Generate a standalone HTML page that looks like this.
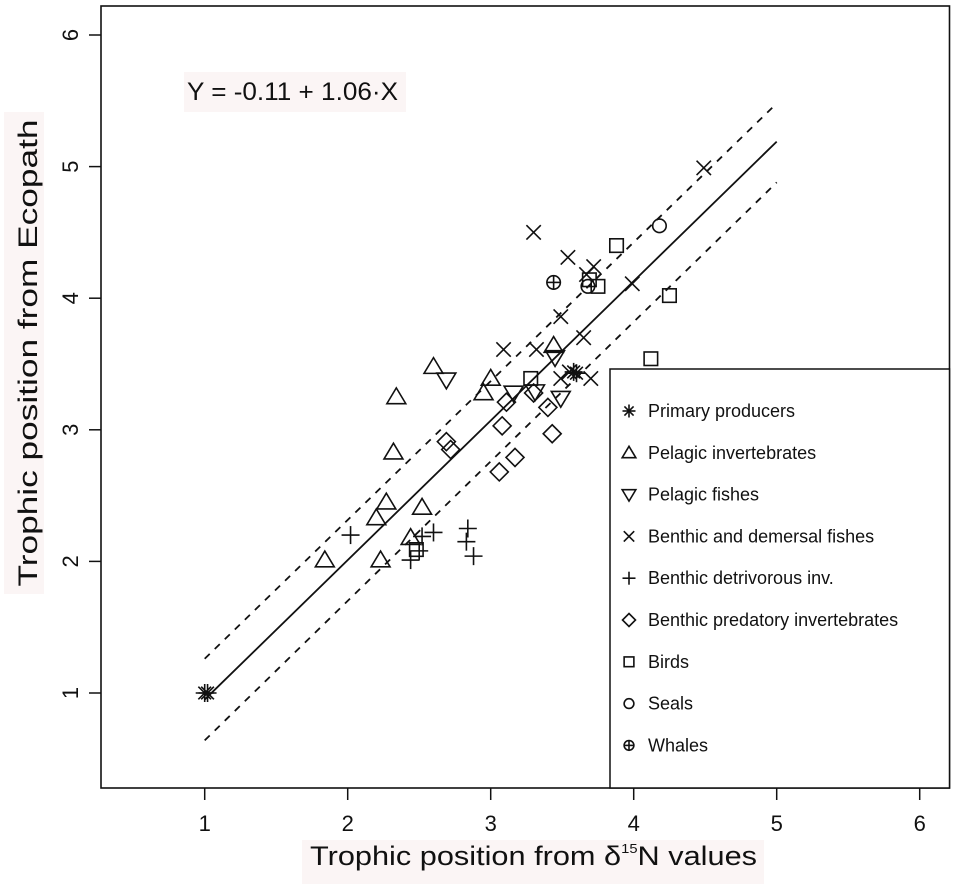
<!DOCTYPE html>
<html><head><meta charset="utf-8"><style>
html,body{margin:0;padding:0;background:#fff;}
svg{display:block;}
text{font-family:"Liberation Sans",Arial,sans-serif;fill:#111;}
</style></head><body>
<svg id="chart" width="956" height="888" viewBox="0 0 956 888" xmlns="http://www.w3.org/2000/svg"></svg>
<script>
const xTicks=[1,2,3,4,5,6];
const yTicks=[1,2,3,4,5,6];
const primaryX=[1.0,1.02,3.58,3.6];
const primaryY=[1.0,1.0,3.44,3.43];
const pelInvX=[2.60,2.34,3.00,2.95,2.32,2.27,2.20,2.52,2.44,1.84,2.23,3.44];
const pelInvY=[3.48,3.25,3.39,3.28,2.83,2.45,2.33,2.41,2.18,2.01,2.01,3.64];
const pelFishX=[2.69,3.16,3.49,3.45,3.31];
const pelFishY=[3.38,3.28,3.24,3.55,3.29];
const benthFishX=[4.49,3.30,3.54,3.72,3.67,3.99,3.49,3.65,3.09,3.32,3.49,3.70,3.55];
const benthFishY=[4.99,4.50,4.31,4.24,4.18,4.11,3.86,3.70,3.61,3.61,3.39,3.39,3.44];
const detrX=[2.02,2.52,2.60,2.84,2.83,2.88,2.44,2.50];
const detrY=[2.20,2.19,2.22,2.25,2.15,2.04,2.01,2.08];
const predX=[2.69,2.72,3.08,3.11,3.30,3.40,3.43,3.17,3.06];
const predY=[2.91,2.85,3.03,3.21,3.28,3.17,2.97,2.79,2.68];
const birdX=[3.88,4.25,3.75,3.69,4.12,3.28,2.48];
const birdY=[4.40,4.02,4.09,4.14,3.54,3.39,2.09];
const sealX=[4.18,3.68];
const sealY=[4.55,4.09];
const whaleX=[3.44];
const whaleY=[4.12];
const fitX=[1,5];
const fitY=[0.95,5.19];
const upperY=[1.26,5.48];
const lowerY=[0.64,4.88];
const legendLabels=["Primary producers","Pelagic invertebrates","Pelagic fishes","Benthic and demersal fishes","Benthic detrivorous inv.","Benthic predatory invertebrates","Birds","Seals","Whales"];

const NS="http://www.w3.org/2000/svg";
const svg=document.getElementById('chart');
function sx(v){return 204.7+(v-1)*143;}
function sy(v){return 693-(v-1)*131.6;}
function mk(tag,attrs,parent){const e=document.createElementNS(NS,tag);for(const k in attrs)e.setAttribute(k,attrs[k]);(parent||svg).appendChild(e);return e;}

let bg=mk('rect',{x:4,y:112,width:40,height:482,fill:'#fbf5f5'});


bg=mk('rect',{x:302,y:840,width:462,height:44,fill:'#fbf5f5'});


bg=mk('rect',{x:184,y:72,width:222,height:40,fill:'#fbf5f5'});



let frame=mk('rect',{x:101,y:6,width:848.5,height:782,fill:'none',stroke:'#111','stroke-width':1.6});



const xAxis=mk('g',{});


xTicks.forEach(t=>{
  const l=mk('line',{x1:sx(t),x2:sx(t),y1:788,y2:800,stroke:'#111','stroke-width':1.5},xAxis);
  
  
  const tx=mk('text',{x:sx(t),y:831,'font-size':22,'text-anchor':'middle'},xAxis);
  tx.textContent=t;
  
  
});
const yAxis=mk('g',{});


yTicks.forEach(t=>{
  const l=mk('line',{x1:89,x2:101,y1:sy(t),y2:sy(t),stroke:'#111','stroke-width':1.5},yAxis);
  
  
  const tx=mk('text',{x:0,y:0,'font-size':22,'text-anchor':'middle',transform:`translate(78,${sy(t)}) rotate(-90)`},yAxis);
  tx.textContent=t;
  
  
});

let yt=mk('text',{x:0,y:0,'font-size':27,'text-anchor':'middle',textLength:467,lengthAdjust:'spacingAndGlyphs',transform:'translate(37,353) rotate(-90)'});
yt.textContent='Trophic position from Ecopath';


let xt=mk('text',{x:310,y:865,'font-size':27,textLength:447,lengthAdjust:'spacingAndGlyphs'});
xt.innerHTML='Trophic position from δ<tspan font-size="13" dy="-12">15</tspan><tspan dy="12">N values</tspan>';


let eq=mk('text',{x:187,y:100,'font-size':25,textLength:211,lengthAdjust:'spacingAndGlyphs'});
eq.textContent='Y = -0.11 + 1.06·X';



let fl=mk('line',{x1:sx(fitX[0]),y1:sy(fitY[0]),x2:sx(fitX[1]),y2:sy(fitY[1]),stroke:'#111','stroke-width':1.8});


let ul=mk('line',{x1:sx(fitX[0]),y1:sy(upperY[0]),x2:sx(fitX[1]),y2:sy(upperY[1]),stroke:'#111','stroke-width':1.8,'stroke-dasharray':'7 7'});


let ll=mk('line',{x1:sx(fitX[0]),y1:sy(lowerY[0]),x2:sx(fitX[1]),y2:sy(lowerY[1]),stroke:'#111','stroke-width':1.8,'stroke-dasharray':'7 7'});



function marker(type,cx,cy,s,parent){
  const g=mk('g',{fill:'none',stroke:'#111','stroke-width':1.6},parent);
  const r=s;
  if(type==='star'){
    for(let a=0;a<4;a++){const an=a*Math.PI/4;mk('line',{x1:cx-r*Math.cos(an),y1:cy-r*Math.sin(an),x2:cx+r*Math.cos(an),y2:cy+r*Math.sin(an)},g);}
  }else if(type==='tri'){
    mk('polygon',{points:`${cx},${cy-r*1.0} ${cx-r*1.05},${cy+r*0.75} ${cx+r*1.05},${cy+r*0.75}`},g);
  }else if(type==='itri'){
    mk('polygon',{points:`${cx},${cy+r*1.0} ${cx-r*1.05},${cy-r*0.75} ${cx+r*1.05},${cy-r*0.75}`},g);
  }else if(type==='x'){
    mk('line',{x1:cx-r*0.8,y1:cy-r*0.8,x2:cx+r*0.8,y2:cy+r*0.8},g);mk('line',{x1:cx-r*0.8,y1:cy+r*0.8,x2:cx+r*0.8,y2:cy-r*0.8},g);
  }else if(type==='plus'){
    mk('line',{x1:cx-r,y1:cy,x2:cx+r,y2:cy},g);mk('line',{x1:cx,y1:cy-r,x2:cx,y2:cy+r},g);
  }else if(type==='diamond'){
    mk('polygon',{points:`${cx},${cy-r} ${cx+r},${cy} ${cx},${cy+r} ${cx-r},${cy}`},g);
  }else if(type==='square'){
    mk('rect',{x:cx-r*0.75,y:cy-r*0.75,width:r*1.5,height:r*1.5},g);
  }else if(type==='circle'){
    mk('circle',{cx:cx,cy:cy,r:r*0.75},g);
  }else if(type==='whale'){
    mk('circle',{cx:cx,cy:cy,r:r*0.75},g);mk('line',{x1:cx-r*0.75,y1:cy,x2:cx+r*0.75,y2:cy},g);mk('line',{x1:cx,y1:cy-r*0.75,x2:cx,y2:cy+r*0.75},g);
  }
  return g;
}
const series=[
 ['star',primaryX,primaryY,'primary-producers'],
 ['tri',pelInvX,pelInvY,'pelagic-invertebrates'],
 ['itri',pelFishX,pelFishY,'pelagic-fishes'],
 ['x',benthFishX,benthFishY,'benthic-demersal-fishes'],
 ['plus',detrX,detrY,'benthic-detrivorous-inv'],
 ['diamond',predX,predY,'benthic-predatory-invertebrates'],
 ['square',birdX,birdY,'birds'],
 ['circle',sealX,sealY,'seals'],
 ['whale',whaleX,whaleY,'whales']
];
series.forEach(([type,xs,ys,name])=>{
  const g=mk('g',{});
  
  
  xs.forEach((v,i)=>{
    const m=marker(type,sx(v),sy(ys[i]),9,g);
    
    
  });
});

const lg=mk('g',{});


const lr=mk('rect',{x:610,y:369,width:339.5,height:419,fill:'#fff',stroke:'#111','stroke-width':1.5},lg);


legendLabels.forEach((lab,i)=>{
  const cy=411+i*41.8;
  const e=mk('g',{},lg);
  
  
  const m=marker(series[i][0],629,cy,6.5,e);
  
  
  const t=mk('text',{x:648,y:cy+6,'font-size':18},e);
  t.textContent=lab;
  
  
});
</script>
</body></html>
